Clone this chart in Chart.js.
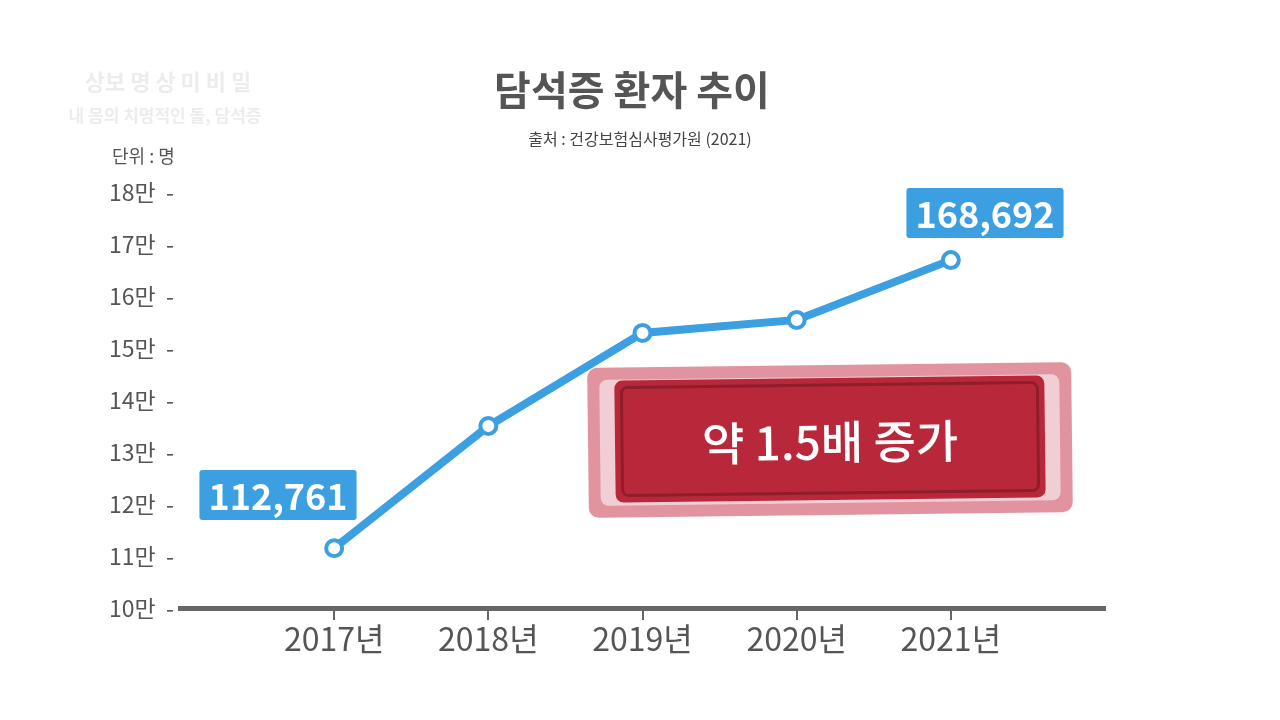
<!DOCTYPE html>
<html><head><meta charset="utf-8">
<script src="https://cdn.jsdelivr.net/npm/chart.js@4"></script>
<style>html,body{margin:0;background:#fff;}#w{width:1280px;height:720px;position:relative}</style>
</head><body><div id="w"><canvas id="c" width="1280" height="720"></canvas></div>
<script>
const years = [2017, 2018, 2019, 2020, 2021];
const patients = [11.15, 13.5, 15.29, 15.54, 16.69]; // 만 명 (as drawn)
const valueLabels = {2017: '112,761', 2021: '168,692'};
const yTicks = [10, 11, 12, 13, 14, 15, 16, 17, 18];
const F = '"Noto Sans CJK KR", "Noto Sans", sans-serif';
const blue = '#3b9fe2';

function rr(ctx,x,y,w,h,r){ctx.beginPath();ctx.roundRect(x,y,w,h,r);}

const deco = {
  id:'deco',
  afterDraw(chart){
    const ctx=chart.ctx;
    ctx.save();
    ctx.textAlign='center';ctx.textBaseline='middle';
    ctx.fillStyle='#555';ctx.font='bold 40px '+F;ctx.fillText('담석증 환자 추이',632,90);
    ctx.font='16px '+F;ctx.fillStyle='#444';ctx.fillText('출처 : 건강보험심사평가원 (2021)',640,139);
    ctx.textAlign='left';ctx.font='18px '+F;ctx.fillStyle='#555';ctx.fillText('단위 : 명',112,156);
    ctx.textAlign='center';ctx.fillStyle='rgba(200,200,200,0.35)';ctx.font='bold 22px '+F;
    ctx.fillText('상보 명 상 미 비 밀',168,82);ctx.font='bold 17px '+F;ctx.fillText('내 몸의 치명적인 돌, 담석증',165,116);
    const boxes=[{i:0,x:278,y:495},{i:4,x:985,y:213}];
    ctx.font='bold 36px '+F;
    boxes.forEach(b=>{
      const t=valueLabels[years[b.i]];const w=ctx.measureText(t).width+18;
      ctx.fillStyle=blue;rr(ctx,b.x-w/2,b.y-25,w,50,3);ctx.fill();
      ctx.fillStyle='#fff';ctx.fillText(t,b.x,b.y+1);
    });
    ctx.translate(830,440);ctx.rotate(-0.012);
    ctx.fillStyle='rgba(200,60,80,0.55)';rr(ctx,-242,-75,484,150,10);ctx.fill();
    ctx.fillStyle='rgba(255,255,255,0.55)';rr(ctx,-230,-63,460,126,8);ctx.fill();
    ctx.fillStyle='#b8283a';rr(ctx,-215,-62,430,122,8);ctx.fill();
    ctx.strokeStyle='#8f1d2c';ctx.lineWidth=3;rr(ctx,-208,-55,416,108,6);ctx.stroke();
    ctx.fillStyle='#fff';ctx.font='500 46px '+F;ctx.fillText('약 1.5배 증가',0,2);
    ctx.restore();
  }
};

new Chart(document.getElementById('c'),{
  type:'line',
  data:{datasets:[{data:years.map((y,i)=>({x:y,y:patients[i]})),borderColor:blue,borderWidth:8,
    pointRadius:8,pointBackgroundColor:'#fff',pointBorderColor:blue,pointBorderWidth:4,tension:0}]},
  options:{responsive:false,animation:false,
    layout:{padding:{top:192,right:175,left:0,bottom:0}},
    plugins:{legend:{display:false},tooltip:{enabled:false}},
    scales:{
      x:{type:'linear',min:2016,max:2022,afterFit:s=>{s.height=112;},
        afterBuildTicks:s=>{s.ticks=years.map(v=>({value:v}));},
        ticks:{callback:v=>v+'년',color:'#555',font:{family:F,size:32},padding:0},
        grid:{drawOnChartArea:false,tickLength:12,color:'#666',lineWidth:2},
        border:{display:true,color:'#666',width:5}},
      y:{min:10,max:18,afterFit:s=>{s.width=180;},
        afterBuildTicks:s=>{s.ticks=yTicks.map(v=>({value:v}));},
        ticks:{callback:v=>v+'만  -',color:'#555',font:{family:F,size:23},padding:-2},
        grid:{display:false},border:{display:false}}
    }},
  plugins:[deco]
});
</script></body></html>
